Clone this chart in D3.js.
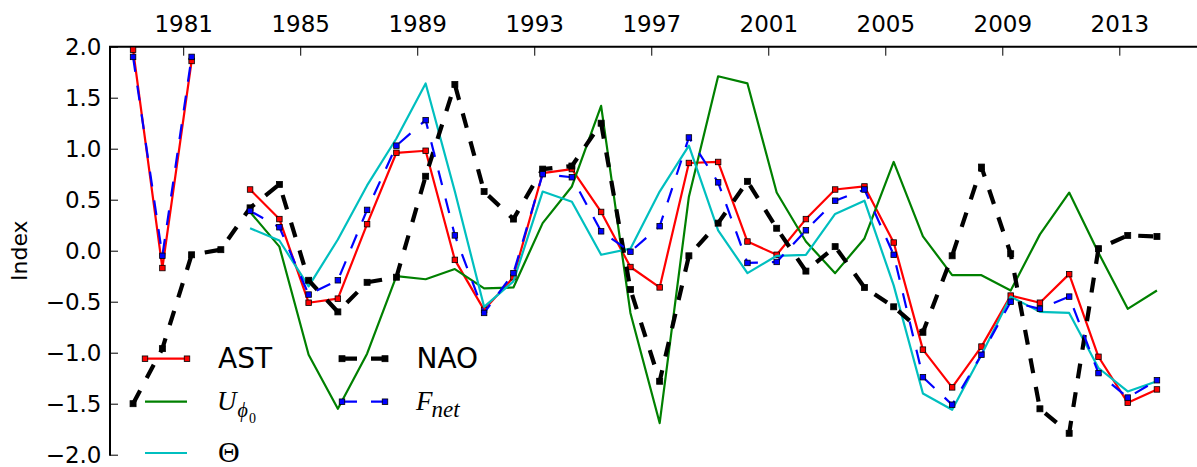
<!DOCTYPE html>
<html>
<head>
<meta charset="utf-8">
<script src="https://cdn.jsdelivr.net/npm/d3@7"></script>
<style>
  html, body { margin: 0; padding: 0; background: #fff; }
  svg { display: block; }
</style>
</head>
<body>
<svg id="chart" width="1197" height="467"></svg>
<script>
// Annual indices, 1979–2014 (null = no value for that year)
const years = d3.range(1979, 2015);

const AST = [1.97, -0.17, 1.86, null, 0.60, 0.31, -0.51, -0.47, 0.26, 0.96,
             0.98, -0.09, -0.58, -0.26, 0.76, 0.80, 0.38, -0.16, -0.36, 0.86,
             0.87, 0.09, -0.04, 0.31, 0.60, 0.63, 0.08, -0.97, -1.34, -0.94,
             -0.44, -0.51, -0.23, -1.04, -1.49, -1.36];

const U_phi0 = [null, null, null, null, 0.38, 0.04, -1.02, -1.55, -1.01, -0.25,
                -0.28, -0.18, -0.37, -0.36, 0.27, 0.63, 1.42, -0.61, -1.69, 0.53,
                1.71, 1.64, 0.57, 0.09, -0.22, 0.12, 0.87, 0.14, -0.24, -0.24,
                -0.39, 0.16, 0.57, -0.02, -0.57, -0.39];

const Theta = [null, null, null, null, 0.22, 0.10, -0.35, 0.11, 0.64, 1.10,
               1.64, 0.58, -0.55, -0.30, 0.58, 0.48, -0.04, 0.02, 0.58, 1.03,
               0.20, -0.22, -0.05, -0.04, 0.36, 0.49, -0.34, -1.40, -1.56, -1.02,
               -0.45, -0.60, -0.61, -1.15, -1.38, -1.28];

const NAO = [-1.50, -0.96, -0.04, 0.01, 0.42, 0.65, -0.29, -0.60, -0.31, -0.26,
             0.73, 1.63, 0.58, 0.31, 0.80, 0.83, 1.25, -0.38, -1.28, -0.05,
             0.27, 0.68, 0.22, -0.20, 0.04, -0.36, -0.55, -0.80, -0.05, 0.82,
             -0.03, -1.55, -1.79, 0.02, 0.15, 0.14];

const Fnet = [1.90, -0.05, 1.90, null, 0.39, 0.23, -0.43, -0.29, 0.40, 1.03,
              1.28, 0.15, -0.61, -0.22, 0.75, 0.72, 0.19, -0.01, 0.24, 1.11,
              0.67, -0.12, -0.11, 0.20, 0.49, 0.60, -0.04, -1.24, -1.51, -1.02,
              -0.50, -0.57, -0.45, -1.20, -1.44, -1.27];

const xTickYears = [1981, 1985, 1989, 1993, 1997, 2001, 2005, 2009, 2013];
const yTicks = [-2.0, -1.5, -1.0, -0.5, 0.0, 0.5, 1.0, 1.5, 2.0];

// Each annual value is placed at its mid-April date
const dateOf = yr => new Date(yr, 3, 16);

const svg = d3.select("#chart");

const plotLeft = 110, plotTop = 46.7, plotBottom = 454.7, plotRightEnd = 1207;

const x = d3.scaleTime()
  .domain([new Date(1978, 6, 2), new Date(2016, 0, 1)])
  .range([plotLeft, plotRightEnd]);

const y = d3.scaleLinear()
  .domain([-2, 2])
  .range([plotBottom, plotTop]);

const tickFont = "'DejaVu Sans', sans-serif";

// Top axis with inward ticks
const xAxis = d3.axisTop(x)
  .tickValues(xTickYears.map(yr => new Date(yr, 0, 1)))
  .tickFormat(d3.timeFormat("%Y"))
  .tickSizeInner(-9)
  .tickSizeOuter(0)
  .tickPadding(14.4);

const gx = svg.append("g")
  .attr("transform", `translate(0,${plotTop})`)
  .call(xAxis);
gx.select(".domain").remove();
gx.selectAll(".tick line").attr("stroke", "#000").attr("stroke-width", 1);
gx.selectAll(".tick text")
  .attr("fill", "#000")
  .style("font-family", tickFont)
  .style("font-size", "23px");

// Left axis with inward ticks
const yAxis = d3.axisLeft(y)
  .tickValues(yTicks)
  .tickFormat(d3.format(".1f"))
  .tickSizeInner(-8)
  .tickSizeOuter(0)
  .tickPadding(8.5);

const gy = svg.append("g")
  .attr("transform", `translate(${plotLeft},0)`)
  .call(yAxis);
gy.select(".domain").remove();
gy.selectAll(".tick line").attr("stroke", "#000").attr("stroke-width", 1);
gy.selectAll(".tick text")
  .attr("fill", "#000")
  .style("font-family", tickFont)
  .style("font-size", "23px");

// Spines: left and top
svg.append("path")
  .attr("d", `M${plotLeft},${plotBottom + 1}V${plotTop}H${plotRightEnd}`)
  .attr("fill", "none")
  .attr("stroke", "#000")
  .attr("stroke-width", 2)
  .attr("stroke-linejoin", "miter");

// Y-axis title
svg.append("text")
  .attr("transform", `translate(27,${(plotTop + plotBottom) / 2}) rotate(-90)`)
  .attr("text-anchor", "middle")
  .style("font-family", tickFont)
  .style("font-size", "22px")
  .text("Index");

// Series, in drawing order
const series = [
  { name: "AST",   values: AST,    color: "#ff0000", width: 2.2, dash: null,    marker: 5.5 },
  { name: "U",     values: U_phi0, color: "#008000", width: 2.2, dash: null,    marker: 0 },
  { name: "Theta", values: Theta,  color: "#00bfbf", width: 2.2, dash: null,    marker: 0 },
  { name: "NAO",   values: NAO,    color: "#000000", width: 4.2, dash: "15,14", marker: 6 },
  { name: "Fnet",  values: Fnet,   color: "#0000ff", width: 2.2, dash: "15,14", marker: 5.5 }
];

const line = d3.line()
  .defined(d => d.v != null)
  .x(d => x(d.date))
  .y(d => y(d.v));

const plot = svg.append("g");

series.forEach(s => {
  const pts = years.map((yr, i) => ({ date: dateOf(yr), v: s.values[i] }));
  const g = plot.append("g");
  g.append("path")
    .datum(pts)
    .attr("d", line)
    .attr("fill", "none")
    .attr("stroke", s.color)
    .attr("stroke-width", s.width)
    .attr("stroke-linejoin", "round")
    .attr("stroke-dasharray", s.dash);
  if (s.marker > 0) {
    g.selectAll("rect")
      .data(pts.filter(d => d.v != null))
      .join("rect")
      .attr("x", d => x(d.date) - s.marker / 2)
      .attr("y", d => y(d.v) - s.marker / 2)
      .attr("width", s.marker)
      .attr("height", s.marker)
      .attr("fill", s.color)
      .attr("stroke", "#000")
      .attr("stroke-width", 0.8);
  }
});

// Legend (two columns, no frame)
const legend = svg.append("g");
const legendItems = [
  { s: series[0], x0: 145, x1: 187, yy: 358.7 },
  { s: series[1], x0: 145, x1: 187, yy: 401.7 },
  { s: series[2], x0: 145, x1: 187, yy: 453 },
  { s: series[3], x0: 342, x1: 385, yy: 358.7 },
  { s: series[4], x0: 342, x1: 385, yy: 401.7 }
];
legendItems.forEach(it => {
  legend.append("line")
    .attr("x1", it.x0).attr("x2", it.x1)
    .attr("y1", it.yy).attr("y2", it.yy)
    .attr("stroke", it.s.color)
    .attr("stroke-width", it.s.width)
    .attr("stroke-dasharray", it.s.dash);
  if (it.s.marker > 0) {
    [it.x0, it.x1].forEach(px => {
      legend.append("rect")
        .attr("x", px - it.s.marker / 2)
        .attr("y", it.yy - it.s.marker / 2)
        .attr("width", it.s.marker)
        .attr("height", it.s.marker)
        .attr("fill", it.s.color)
        .attr("stroke", "#000")
        .attr("stroke-width", 0.8);
    });
  }
});

const sansFont = "'DejaVu Sans', sans-serif";
const serifFont = "'Liberation Serif', 'DejaVu Serif', serif";

legend.append("text")
  .attr("x", 218).attr("y", 368.3)
  .style("font-family", sansFont).style("font-size", "28px")
  .text("AST");
legend.append("text")
  .attr("x", 416.5).attr("y", 368.3)
  .style("font-family", sansFont).style("font-size", "28px")
  .text("NAO");

// U with subscript phi_0
legend.append("text")
  .attr("x", 217).attr("y", 410)
  .style("font-family", serifFont).style("font-size", "27px").style("font-style", "italic")
  .text("U");
legend.append("text")
  .attr("x", 237.5).attr("y", 416.5)
  .style("font-family", serifFont).style("font-size", "20px").style("font-style", "italic")
  .text("ϕ");
legend.append("text")
  .attr("x", 249).attr("y", 422.5)
  .style("font-family", serifFont).style("font-size", "14px")
  .text("0");

// Theta
legend.append("text")
  .attr("x", 218).attr("y", 461.5)
  .style("font-family", serifFont).style("font-size", "30px")
  .text("Θ");

// F with subscript net
legend.append("text")
  .attr("x", 416).attr("y", 410)
  .style("font-family", serifFont).style("font-size", "27px").style("font-style", "italic")
  .text("F");
legend.append("text")
  .attr("x", 431.5).attr("y", 417)
  .style("font-family", serifFont).style("font-size", "23px").style("font-style", "italic")
  .text("net");
</script>
</body>
</html>
